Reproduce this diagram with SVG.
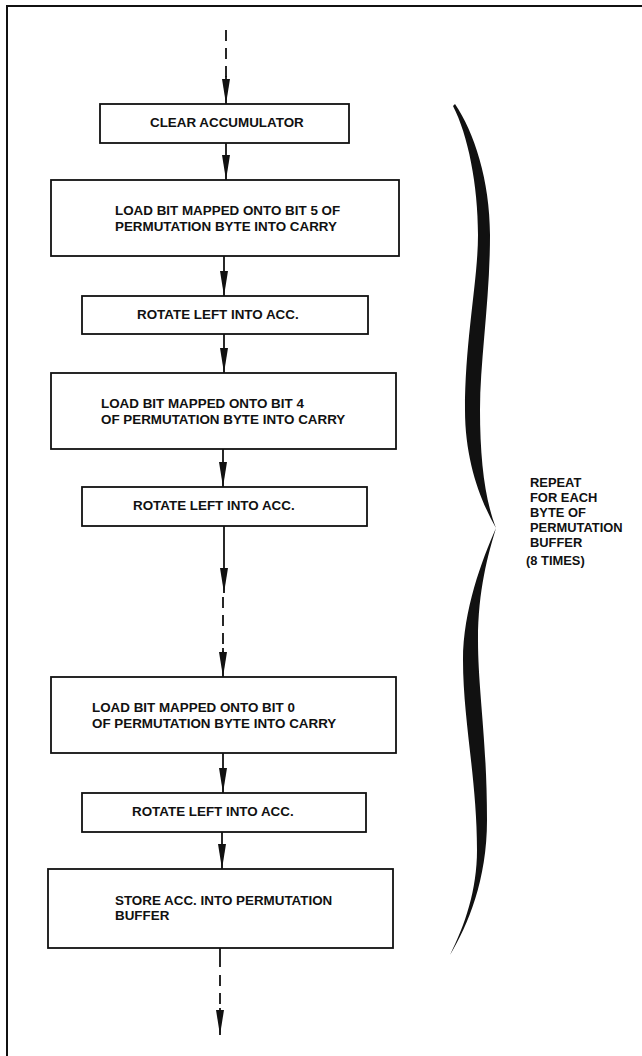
<svg xmlns="http://www.w3.org/2000/svg" width="642" height="1056" viewBox="0 0 642 1056">
<defs>
<style>
.box{fill:#fff;stroke:#111;stroke-width:1.8}
.t{font-family:"Liberation Sans",Arial,sans-serif;font-weight:bold;font-size:13.4px;fill:#111}
.r{font-family:"Liberation Sans",Arial,sans-serif;font-weight:bold;font-size:12.9px;fill:#111}
.ln{stroke:#111;stroke-width:1.8;fill:none}
.dash{stroke:#111;stroke-width:1.8;fill:none;stroke-dasharray:11 7}
</style>
<marker id="ah" markerWidth="26" markerHeight="10" refX="25" refY="4.5" orient="auto" markerUnits="userSpaceOnUse">
<path d="M0,0.5 L25,4.5 L0,8.5 Z" fill="#111"/>
</marker>
</defs>
<rect width="642" height="1056" fill="#fff"/>
<path d="M7,1060 L7,6 L650,6" fill="none" stroke="#111" stroke-width="2"/>

<g id="connectors">
<line class="dash" x1="226" y1="30" x2="226" y2="78"/>
<line class="ln" x1="226" y1="76" x2="226" y2="104" marker-end="url(#ah)"/>
<line class="ln" x1="226" y1="143" x2="226" y2="180" marker-end="url(#ah)"/>
<line class="ln" x1="224" y1="256" x2="224" y2="296" marker-end="url(#ah)"/>
<line class="ln" x1="224" y1="334" x2="224" y2="373" marker-end="url(#ah)"/>
<line class="ln" x1="223" y1="449" x2="223" y2="487" marker-end="url(#ah)"/>
<line class="ln" x1="224" y1="526" x2="224" y2="593" marker-end="url(#ah)"/>
<line class="dash" x1="223" y1="597" x2="223" y2="652"/>
<line class="ln" x1="223" y1="648" x2="223" y2="677" marker-end="url(#ah)"/>
<line class="ln" x1="223" y1="753" x2="223" y2="793" marker-end="url(#ah)"/>
<line class="ln" x1="222" y1="832" x2="222" y2="869" marker-end="url(#ah)"/>
<line class="ln" x1="220" y1="948" x2="220" y2="967"/>
<line class="dash" x1="220" y1="975" x2="220" y2="1012"/>
<line class="ln" x1="220" y1="1008" x2="220" y2="1035" marker-end="url(#ah)"/>
</g>

<g id="n1"><rect class="box" x="100" y="104" width="249" height="39"/><text class="t" x="150" y="127">CLEAR ACCUMULATOR</text></g>
<g id="n2"><rect class="box" x="51" y="180" width="348" height="76"/><text class="t" x="115" y="215">LOAD BIT MAPPED ONTO BIT 5 OF</text><text class="t" x="115" y="231">PERMUTATION BYTE INTO CARRY</text></g>
<g id="n3"><rect class="box" x="82" y="296" width="286" height="38"/><text class="t" x="137" y="319">ROTATE LEFT INTO ACC.</text></g>
<g id="n4"><rect class="box" x="51" y="373" width="345" height="76"/><text class="t" x="101" y="408">LOAD BIT MAPPED ONTO BIT 4</text><text class="t" x="101" y="424">OF PERMUTATION BYTE INTO CARRY</text></g>
<g id="n5"><rect class="box" x="82" y="487" width="285" height="39"/><text class="t" x="133" y="510">ROTATE LEFT INTO ACC.</text></g>
<g id="n6"><rect class="box" x="51" y="677" width="345" height="76"/><text class="t" x="92" y="712">LOAD BIT MAPPED ONTO BIT 0</text><text class="t" x="92" y="728">OF PERMUTATION BYTE INTO CARRY</text></g>
<g id="n7"><rect class="box" x="82" y="793" width="284" height="39"/><text class="t" x="132" y="816">ROTATE LEFT INTO ACC.</text></g>
<g id="n8"><rect class="box" x="48" y="869" width="345" height="79"/><text class="t" x="115" y="905">STORE ACC. INTO PERMUTATION</text><text class="t" x="115" y="920">BUFFER</text></g>

<g id="brace">
<path d="M455,104 C474,132 490,180 490,235 C490,300 480,360 480,410 C480,460 485,500 496,528 C480,500 465,460 465,410 C465,340 478,280 478,235 C478,185 468,135 453,106 Z" fill="#111"/>
<path d="M496,528 C482,560 463,610 463,660 C463,720 477,780 477,850 C477,890 465,925 450,955 C468,925 487,880 487,820 C487,740 478,690 478,640 C478,590 488,555 496,528 Z" fill="#111"/>
</g>
<g id="label">
<text class="r" x="530" y="487">REPEAT</text>
<text class="r" x="530" y="502">FOR EACH</text>
<text class="r" x="530" y="517">BYTE OF</text>
<text class="r" x="530" y="532">PERMUTATION</text>
<text class="r" x="530" y="547">BUFFER</text>
<text class="r" x="526" y="565">(8 TIMES)</text>
</g>
</svg>
